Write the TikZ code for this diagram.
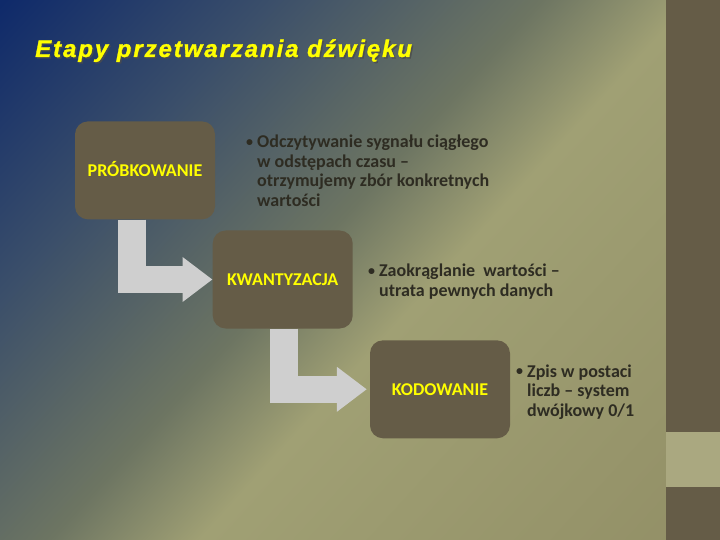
\documentclass[tikz,border=0pt]{standalone}
\usepackage{fontspec}
\setmainfont{Carlito}
\newfontfamily\titlefont[LetterSpace=8, BoldItalicFeatures={FakeBold=1.2}]{Liberation Sans}
\usetikzlibrary{arrows.meta}
\definecolor{bg0}{HTML}{0F2A6A}
\definecolor{bg1}{HTML}{3A4E6A}
\definecolor{bg2}{HTML}{6D7562}
\definecolor{bg3}{HTML}{A0A074}
\definecolor{bg4}{HTML}{928F66}
\definecolor{boxc}{HTML}{655C47}
\definecolor{bandc}{HTML}{AAA880}
\definecolor{txtc}{HTML}{2E2C22}
\definecolor{arrc}{HTML}{CFCFCF}
\definecolor{ylw}{HTML}{FFFF00}
\pgfdeclarehorizontalshading{bgshade}{100bp}{color(0bp)=(bg0); color(14.7bp)=(bg0); color(30bp)=(bg1); color(46.2bp)=(bg2); color(55bp)=(bg3); color(85.3bp)=(bg4); color(100bp)=(bg4)}
\tikzset{
  stagebox/.style={draw=none, fill=boxc, rounded corners=13pt, minimum width=140pt, minimum height=98pt,
    inner sep=0pt, text=ylw, font=\bfseries\fontsize{18}{18}\selectfont, text height=11.6pt, text depth=0pt},
  bodytext/.style={anchor=base west, inner sep=0pt, text=txtc},
  bigarrow/.style={draw=arrc, line width=27.5pt, line join=miter, line cap=butt,
    -{Triangle[length=30pt,width=43pt]}},
  titlestyle/.style={anchor=base west, inner sep=0pt, font=\titlefont\bfseries\itshape\fontsize{24}{24}\selectfont}
}
\newcommand{\bodypar}[2]{\parbox[t]{#1}{\raggedright\bfseries\fontsize{18}{19.5}\selectfont\leavevmode\llap{{\fontsize{14}{14}\selectfont\raisebox{1.5pt}{•}}\hspace{4pt}}#2}}
\begin{document}
\begin{tikzpicture}[x=1pt,y=-1pt]
\useasboundingbox (0,0) rectangle (720,540);
\shade[shading=bgshade, shading angle=-42.36] (0,0) rectangle (720,540);
% right strip
\fill[boxc] (666,0) rectangle (720,432);
\fill[bandc] (666,432) rectangle (720,487);
\fill[boxc] (666,487) rectangle (720,540);
% title
\node[titlestyle, text=black!70, opacity=0.8] (titleshadow) at (36.5,58.5) {Etapy przetwarzania dźwięku};
\node[titlestyle, text=ylw] (title) at (35,57) {Etapy przetwarzania dźwięku};
% boxes
\node[stagebox] (b1) at (145,170.4) {PRÓBKOWANIE};
\node[stagebox] (b2) at (282.7,279.5) {KWANTYZACJA};
\node[stagebox] (b3) at (440,389.3) {KODOWANIE};
% arrows
\draw[bigarrow] ([xshift=-13pt]b1.south) |- (b2.west);
\draw[bigarrow, shorten >=3pt] ([xshift=1.5pt]b2.south) |- (b3.west);
% descriptions
\node[bodytext] (d1) at (257,148) {\bodypar{260pt}{Odczytywanie sygnału ciągłego\\w odstępach czasu –\\otrzymujemy zbór konkretnych\\wartości}};
\node[bodytext] (d2) at (379,276.7) {\bodypar{260pt}{Zaokrąglanie\ \ wartości –\\utrata pewnych danych}};
\node[bodytext] (d3) at (527,377) {\bodypar{160pt}{Zpis w postaci\\liczb – system\\dwójkowy 0/1}};
\end{tikzpicture}
\end{document}
